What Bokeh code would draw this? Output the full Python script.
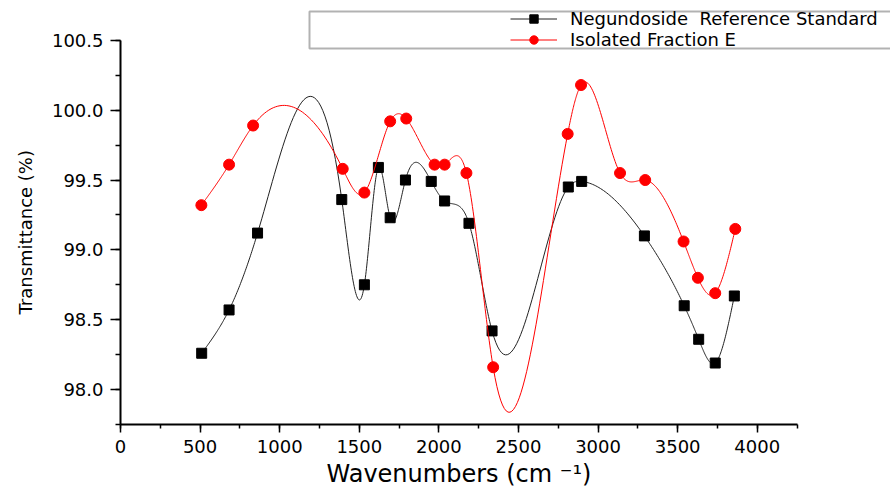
import numpy as np
from bokeh.plotting import figure
from bokeh.models import (Legend, LegendItem, SingleIntervalTicker, BoxAnnotation,
                          Range1d, PrintfTickFormatter, Title)
from bokeh.embed import file_html
from bokeh.resources import INLINE

# ---- data ----
ref_wn = [510, 682, 861, 1390, 1532, 1620, 1694, 1790, 1952, 2036, 2189, 2334,
          2813, 2897, 3291, 3541, 3632, 3736, 3856]
ref_t = [98.26, 98.57, 99.12, 99.36, 98.75, 99.59, 99.23, 99.50, 99.49, 99.35,
         99.19, 98.42, 99.45, 99.49, 99.10, 98.60, 98.36, 98.19, 98.67]
frac_wn = [508, 682, 833, 1396, 1532, 1694, 1795, 1973, 2036, 2173, 2341, 2809,
           2893, 3138, 3296, 3537, 3627, 3736, 3862]
frac_t = [99.32, 99.61, 99.89, 99.58, 99.41, 99.92, 99.94, 99.61, 99.61, 99.55,
          98.16, 99.83, 100.18, 99.55, 99.50, 99.06, 98.80, 98.69, 99.15]
ref_label = "Negundoside  Reference Standard"
frac_label = "Isolated Fraction E"
x_title = "Wavenumbers (cm \u207b\u00b9)"
y_title = "Transmittance (%)"
x_axis_extent = (0, 4250)
y_axis_extent = (97.75, 100.5)

FONT = "DejaVu Sans"


def spline_curve(xs, ys, per=40):
    """Natural cubic spline through the markers (smooth connecting line)."""
    x = np.asarray(xs, float)
    y = np.asarray(ys, float)
    n = len(x)
    h = np.diff(x)
    A = np.zeros((n, n))
    r = np.zeros(n)
    A[0, 0] = 1.0
    A[-1, -1] = 1.0
    for i in range(1, n - 1):
        A[i, i - 1] = h[i - 1]
        A[i, i] = 2 * (h[i - 1] + h[i])
        A[i, i + 1] = h[i]
        r[i] = 6 * ((y[i + 1] - y[i]) / h[i] - (y[i] - y[i - 1]) / h[i - 1])
    M = np.linalg.solve(A, r)
    xx, yy = [], []
    for i in range(n - 1):
        t = np.linspace(x[i], x[i + 1], per, endpoint=(i == n - 2))
        a = x[i + 1] - t
        b = t - x[i]
        s = ((M[i] * a ** 3 + M[i + 1] * b ** 3) / (6 * h[i])
             + (y[i] / h[i] - M[i] * h[i] / 6) * a
             + (y[i + 1] / h[i] - M[i + 1] * h[i] / 6) * b)
        xx.extend(t.tolist())
        yy.extend(s.tolist())
    return xx, yy


# frame spans to the right and top canvas edges so the legend box can sit there;
# the axes themselves are limited with "bounds".
p = figure(frame_width=770, frame_height=424,
           min_border_left=120, min_border_right=0,
           min_border_top=0, min_border_bottom=63,
           x_range=Range1d(0, 4837), y_range=Range1d(97.75, 100.785),
           output_backend="svg", toolbar_location=None)
p.outline_line_color = None
p.grid.visible = False
p.background_fill_color = "white"
p.border_fill_color = "white"

rx, ry = spline_curve(ref_wn, ref_t)
fx, fy = spline_curve(frac_wn, frac_t)

l1 = p.line(rx, ry, line_color="#222222", line_width=1)
m1 = p.scatter(ref_wn, ref_t, marker="square", size=10,
               fill_color="black", line_color="black")
l2 = p.line(fx, fy, line_color="#ff0000", line_width=1)
m2 = p.scatter(frac_wn, frac_t, marker="circle", size=11,
               fill_color="#ff0000", line_color="#ff0000")

# axes
p.xaxis.ticker = SingleIntervalTicker(interval=500, num_minor_ticks=2)
p.yaxis.ticker = SingleIntervalTicker(interval=0.5, num_minor_ticks=2)
p.yaxis.formatter = PrintfTickFormatter(format="%.1f")
p.xaxis.bounds = x_axis_extent
p.yaxis.bounds = y_axis_extent
for ax in (p.xaxis[0], p.yaxis[0]):
    ax.axis_line_width = 2
    ax.axis_line_color = "black"
    ax.major_tick_line_width = 1.5
    ax.minor_tick_line_width = 1.5
    ax.major_tick_line_color = "black"
    ax.minor_tick_line_color = "black"
    ax.major_tick_in = 0
    ax.minor_tick_in = 0
    ax.major_label_text_font = FONT
    ax.major_label_text_font_size = "18px"
    ax.major_label_text_color = "black"
    ax.major_label_standoff = 7

p.yaxis.major_tick_out = 10
p.yaxis.minor_tick_out = 5
p.xaxis.major_tick_out = 8
p.xaxis.minor_tick_out = 4

# axis titles, centred on the axis extent rather than on the (wider) frame
xt = Title(text=x_title, align="left", offset=206, standoff=4,
           text_font=FONT, text_font_size="24px", text_font_style="normal",
           text_color="black")
p.add_layout(xt, "below")
yt = Title(text=y_title, align="left", offset=110, standoff=25,
           text_font=FONT, text_font_size="18px", text_font_style="normal",
           text_color="black")
p.add_layout(yt, "left")

# legend frame (drawn as a box in canvas units)
box = BoxAnnotation(left=309, right=893, top=11, bottom=48,
                    left_units="canvas", right_units="canvas",
                    top_units="canvas", bottom_units="canvas",
                    fill_alpha=0, line_color="black", line_width=2)
p.add_layout(box)

legend = Legend(items=[LegendItem(label=ref_label, renderers=[l1, m1]),
                       LegendItem(label=frac_label, renderers=[l2, m2])],
                location=(390, 374), padding=0, margin=0,
                glyph_width=47, glyph_height=21, label_height=18, spacing=0,
                label_standoff=13, label_text_font=FONT,
                label_text_font_size="18px", label_text_color="black",
                border_line_alpha=0, background_fill_alpha=0)
p.add_layout(legend)

open("out.html", "w").write(file_html(p, INLINE))
